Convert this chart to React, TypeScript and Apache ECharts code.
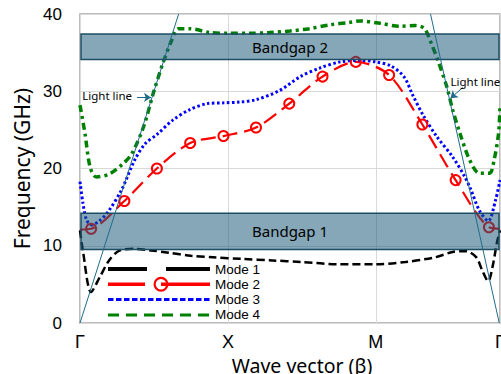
import React, { useEffect, useRef } from "react";
import * as echarts from "echarts";

// Wave-vector positions: Γ = 0, X = 1, M = 2, Γ = 2.84
const xTickValues = [0, 1, 2, 2.84];
const xTickLabels = ["Γ", "X", "M", "Γ"];

const mode1X = [0, 0.02, 0.075, 0.135, 0.2, 0.27, 0.37, 0.48, 0.6, 0.75, 0.9, 1.1, 1.3, 1.5, 1.75, 2.0, 2.2, 2.4, 2.52, 2.61, 2.68, 2.72, 2.76, 2.79, 2.82, 2.84];
const mode1Y = [12, 9.3, 4.0, 6.0, 8.2, 9.4, 9.6, 9.4, 9.1, 8.7, 8.5, 8.3, 8.1, 7.9, 7.6, 7.6, 7.9, 8.5, 9.2, 9.3, 8.5, 6.8, 5.4, 7.3, 10.5, 12];

const mode2X = [0, 0.075, 0.3, 0.52, 0.745, 0.97, 1.19, 1.415, 1.64, 1.865, 2.09, 2.315, 2.54, 2.765, 2.84];
const mode2Y = [12.1, 12.2, 15.8, 20.0, 23.3, 24.2, 25.3, 28.4, 31.9, 33.8, 32.1, 25.7, 18.5, 12.4, 12.2];
const mode2Marked = [false, true, true, true, true, true, true, true, true, true, true, true, true, true, false];

const mode3X = [0, 0.02, 0.045, 0.08, 0.13, 0.19, 0.28, 0.37, 0.44, 0.52, 0.63, 0.74, 0.86, 0.97, 1.08, 1.19, 1.35, 1.49, 1.62, 1.76, 1.89, 2.0, 2.1, 2.19, 2.25, 2.32, 2.41, 2.52, 2.6, 2.64, 2.7, 2.76, 2.81, 2.84];
const mode3Y = [18.3, 15.5, 13.3, 12.7, 13.2, 14.4, 17.2, 21.1, 23.2, 24.4, 26.3, 27.6, 28.4, 28.5, 28.6, 28.9, 30.1, 31.9, 33.0, 33.8, 34.0, 33.8, 33.3, 31.9, 29.5, 26.9, 24.2, 21.5, 19.0, 17.4, 14.6, 13.2, 15.9, 18.5];

const mode4X = [0, 0.034, 0.068, 0.11, 0.2, 0.29, 0.35, 0.43, 0.495, 0.56, 0.62, 0.665, 0.74, 0.88, 1.01, 1.15, 1.28, 1.42, 1.55, 1.69, 1.82, 1.89, 2.03, 2.16, 2.27, 2.33, 2.375, 2.42, 2.48, 2.52, 2.57, 2.635, 2.7, 2.77, 2.8, 2.83, 2.84];
const mode4Y = [28.2, 24.5, 20.2, 18.9, 19.3, 20.6, 21.9, 25.4, 29.7, 33.6, 36.6, 38.1, 38.1, 37.6, 37.5, 37.5, 37.6, 37.8, 38.1, 38.6, 38.9, 39.1, 38.8, 38.4, 38.5, 38.1, 36.2, 34.0, 30.6, 27.6, 24.5, 21.1, 19.4, 19.4, 21.1, 24.5, 28.0];

const lightLeftX = [0, 0.667];
const lightLeftY = [0, 40];
const lightRightX = [2.835, 2.37];
const lightRightY = [0, 40];

const bandNames = ["Bandgap 1", "Bandgap 2"];
const bandLow = [9.5, 34.1];
const bandHigh = [14.2, 37.4];

const X_MAX = 2.84;

const zip = (xs: number[], ys: number[]) => xs.map((x, i) => [x, ys[i]]);

// legend icon paths, each drawn in a 102 x 17 box
const ICON_W = 102;
const ICON_H = 17;
function dashIcon(dash: number, gap: number, thick: number) {
  let d = `M0,0M${ICON_W},${ICON_H}`;
  const y0 = (ICON_H - thick) / 2;
  for (let x = 0; x < ICON_W; x += dash + gap) {
    const w = Math.min(dash, ICON_W - x);
    d += `M${x},${y0}h${w}v${thick}h${-w}z`;
  }
  return "path://" + d;
}
const mode1Icon = `path://M0,0M${ICON_W},${ICON_H}M0,6.5h39v4h-39zM58,6.5h44v4h-44z`;
const mode2Icon =
  `path://M0,0M${ICON_W},${ICON_H}` +
  "M0,6.8h37v3.4h-37z" +
  "M53,6.8h49v3.4h-49z" +
  "M60.5,8.5a7.5,7.5 0 1,1 -15,0a7.5,7.5 0 1,1 15,0z" +
  "M58.3,8.5a5.3,5.3 0 1,0 -10.6,0a5.3,5.3 0 1,0 10.6,0z";

export default function App() {
  const ref = useRef<HTMLDivElement>(null);
  useEffect(() => {
    if (!ref.current) return;
    const chart = echarts.init(ref.current, null, { renderer: "svg" });
    const sans = "'Noto Sans', 'Open Sans', sans-serif";
    const tickFont = "'Liberation Sans', Arial, sans-serif";
    const lightLabel = {
      show: true,
      position: "inside",
      align: "left",
      verticalAlign: "middle",
      formatter: "Light line",
      fontFamily: sans,
      fontSize: 11.5,
      color: "#000",
    };
    const option: any = {
      animation: false,
      backgroundColor: "#ffffff",
      grid: {
        left: 80,
        top: 14,
        right: 1,
        bottom: 51,
        containLabel: false,
        outerBoundsMode: "none",
        show: true,
        borderColor: "#a6a6a6",
        borderWidth: 1.5,
        backgroundColor: "transparent",
      },
      xAxis: {
        type: "value",
        min: 0,
        max: X_MAX,
        interval: 1,
        name: "Wave vector (β)",
        nameLocation: "middle",
        nameGap: 21,
        nameTextStyle: { fontFamily: sans, fontSize: 19.5, color: "#000", padding: [0, 0, 0, 24] },
        axisLine: { show: false },
        axisTick: { show: false },
        splitLine: { show: true, lineStyle: { color: "#d9d9d9", width: 1 } },
        axisLabel: {
          margin: 10,
          fontFamily: tickFont,
          fontSize: 18,
          color: "#000",
          showMaxLabel: true,
          showMinLabel: true,
          hideOverlap: false,
          formatter: (v: number) => {
            let best = 0;
            xTickValues.forEach((t, i) => {
              if (Math.abs(t - v) < Math.abs(xTickValues[best] - v)) best = i;
            });
            return xTickLabels[best];
          },
        },
      },
      yAxis: {
        type: "value",
        min: 0,
        max: 40,
        interval: 10,
        name: "Frequency (GHz)",
        nameLocation: "middle",
        nameGap: 46,
        nameTextStyle: { fontFamily: sans, fontSize: 21, color: "#000" },
        axisLine: { show: false },
        axisTick: { show: false },
        splitLine: { show: true, lineStyle: { color: "#d9d9d9", width: 1 } },
        axisLabel: { margin: 18, fontFamily: tickFont, fontSize: 17, color: "#000" },
      },
      legend: {
        orient: "vertical",
        left: 108,
        top: 260.5,
        itemWidth: ICON_W,
        itemHeight: ICON_H,
        itemGap: -1.7,
        padding: 0,
        symbolKeepAspect: true,
        textStyle: { fontFamily: tickFont, fontSize: 13.5, lineHeight: 15, color: "#000" },
        data: [
          { name: "Mode 1", icon: mode1Icon, itemStyle: { color: "#000000", borderWidth: 0 } },
          { name: "Mode 2", icon: mode2Icon, itemStyle: { color: "#ff0000", borderWidth: 0 } },
          { name: "Mode 3", icon: dashIcon(5.5, 2.5, 3), itemStyle: { color: "#0000ff", borderWidth: 0 } },
          { name: "Mode 4", icon: dashIcon(11, 7, 3), itemStyle: { color: "#008000", borderWidth: 0 } },
        ],
      },
      series: [
        {
          name: "Mode 1",
          type: "line",
          data: zip(mode1X, mode1Y),
          smooth: 0.3,
          symbol: "none",
          z: 2,
          lineStyle: { color: "#000000", width: 2.5, type: [8, 4] },
          itemStyle: { color: "#000000" },
        },
        {
          name: "Mode 2",
          type: "line",
          data: mode2X.map((x, i) =>
            mode2Marked[i] ? { value: [x, mode2Y[i]] } : { value: [x, mode2Y[i]], symbol: "none" }
          ),
          smooth: 0.3,
          symbol: "circle",
          symbolSize: 10,
          showSymbol: true,
          z: 2,
          lineStyle: { color: "#ff0000", width: 2.2, type: [15, 7] },
          itemStyle: { color: "rgba(255,255,255,0)", borderColor: "#ff0000", borderWidth: 2 },
        },
        {
          name: "Mode 3",
          type: "line",
          data: zip(mode3X, mode3Y),
          smooth: 0.3,
          symbol: "none",
          z: 2,
          lineStyle: { color: "#0000ff", width: 3, type: [2.5, 2.5] },
          itemStyle: { color: "#0000ff" },
        },
        {
          name: "Mode 4",
          type: "line",
          data: zip(mode4X, mode4Y),
          smooth: 0.3,
          symbol: "none",
          z: 2,
          lineStyle: { color: "#008000", width: 3.5, type: [7, 4, 3, 4] },
          itemStyle: { color: "#008000" },
        },
        {
          name: "bandgaps",
          type: "custom",
          z: 3,
          silent: true,
          data: bandNames.map((n, i) => [bandLow[i], bandHigh[i], i]),
          renderItem: (params: any, api: any) => {
            const lo = api.value(0);
            const hi = api.value(1);
            const idx = api.value(2);
            const p0 = api.coord([0, hi]);
            const p1 = api.coord([X_MAX, lo]);
            return {
              type: "group",
              children: [
                {
                  type: "rect",
                  shape: { x: p0[0] + 1, y: p0[1], width: p1[0] - p0[0] - 2, height: p1[1] - p0[1] },
                  style: { fill: "rgba(25, 88, 120, 0.53)", stroke: "#1d4d62", lineWidth: 1.5 },
                },
                {
                  type: "text",
                  style: {
                    text: bandNames[idx],
                    x: (p0[0] + p1[0]) / 2,
                    y: (p0[1] + p1[1]) / 2,
                    align: "center",
                    verticalAlign: "middle",
                    fill: "#000",
                    font: "15px 'Noto Sans', 'Open Sans', sans-serif",
                  },
                },
              ],
            };
          },
        },
        {
          name: "lightLeft",
          type: "line",
          data: zip(lightLeftX, lightLeftY),
          symbol: "none",
          z: 4,
          silent: true,
          lineStyle: { color: "#1f6b8a", width: 1 },
          markLine: {
            silent: true,
            symbol: ["none", "arrow"],
            symbolSize: 7,
            lineStyle: { color: "#1f6b8a", width: 1, type: "solid" },
            label: { show: false },
            data: [[{ coord: [0.385, 29.2] }, { coord: [0.48, 29.2] }]],
          },
          markPoint: {
            silent: true,
            symbol: "circle",
            symbolSize: 0,
            label: lightLabel,
            data: [{ coord: [0.015, 29.4] }],
          },
        },
        {
          name: "lightRight",
          type: "line",
          data: zip(lightRightX, lightRightY),
          symbol: "none",
          z: 4,
          silent: true,
          lineStyle: { color: "#1f6b8a", width: 1 },
          markLine: {
            silent: true,
            symbol: ["none", "arrow"],
            symbolSize: 7,
            lineStyle: { color: "#1f6b8a", width: 1, type: "solid" },
            label: { show: false },
            data: [[{ coord: [2.59, 30.5] }, { coord: [2.505, 29.1] }]],
          },
          markPoint: {
            silent: true,
            symbol: "circle",
            symbolSize: 0,
            label: lightLabel,
            data: [{ coord: [2.505, 31.3] }],
          },
        },
      ],
    };
    chart.setOption(option);
    return () => chart.dispose();
  }, []);
  return (
    <div
      ref={ref}
      style={{ position: "absolute", left: 0, top: 0, width: 501, height: 374 }}
    />
  );
}
